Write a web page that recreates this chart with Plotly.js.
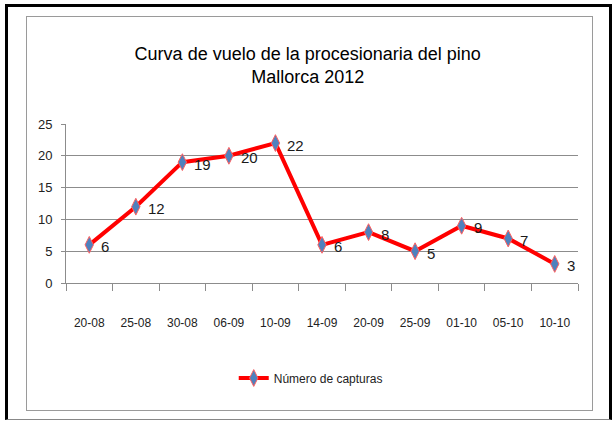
<!DOCTYPE html>
<html>
<head>
<meta charset="utf-8">
<script src="https://cdn.plot.ly/plotly-3.0.1.min.js"></script>
<style>
  html, body { margin: 0; padding: 0; background: #fff; }
  #wrap { position: relative; width: 613px; height: 421px; overflow: hidden; }
  #chart { position: absolute; left: 0; top: 0; width: 613px; height: 421px; }
  .frame { position: absolute; pointer-events: none; box-sizing: border-box; }
  #outer { left: 5px; top: 4px; width: 607px; height: 416px;
           border-left: 3px solid #000; border-top: 3px solid #000; border-right: 3px solid #000;
           border-bottom: 1px solid #888; }
  #inner { left: 26px; top: 16px; width: 567px; height: 395px; border: 1px solid #9a9a9a; }
</style>
</head>
<body>
<div id="wrap">
  <div id="chart"></div>
  <div class="frame" id="outer"></div>
  <div class="frame" id="inner"></div>
</div>
<script>
const categories = ["20-08", "25-08", "30-08", "06-09", "10-09", "14-09", "20-09", "25-09", "01-10", "05-10", "10-10"];
const capturas = [6, 12, 19, 20, 22, 6, 8, 5, 9, 7, 3];
const seriesName = "Número de capturas";
const yTicks = [0, 5, 10, 15, 20, 25];
const chartTitle = "Curva de vuelo de la procesionaria del pino<br>Mallorca 2012";

const fam = '"Liberation Sans Narrow", "Liberation Sans", Arial, sans-serif';

const trace = {
  x: categories,
  y: capturas,
  name: seriesName,
  type: "scatter",
  mode: "lines+markers",
  line: { color: "#ff0000", width: 4 },
  marker: { symbol: "diamond-tall", size: 12, color: "#4f81bd", line: { color: "#ff6060", width: 1 } },
  cliponaxis: false
};

const labels = categories.map((c, i) => ({
  x: c, y: capturas[i], xref: "x", yref: "y",
  text: String(capturas[i]), showarrow: false,
  xanchor: "left", yanchor: "middle", xshift: 10, yshift: -2,
  font: { family: fam, size: 15, color: "#1a1a1a" }
}));

const layout = {
  width: 613,
  height: 421,
  margin: { l: 66, r: 35, t: 124, b: 138 },
  paper_bgcolor: "#ffffff",
  plot_bgcolor: "#ffffff",
  title: {
    text: chartTitle,
    font: { family: fam, size: 18, color: "#000" },
    x: 0.502, xanchor: "center",
    y: 1 - 60 / 421, yref: "container", yanchor: "middle"
  },
  annotations: labels,
  showlegend: true,
  legend: {
    orientation: "h",
    x: 0.478, xanchor: "center",
    y: (283 - 378) / 159, yanchor: "middle",
    font: { family: fam, size: 12, color: "#222" },
    itemwidth: 30
  },
  xaxis: {
    type: "category",
    range: [-0.5, 10.5],
    showline: true, linecolor: "#8c8c8c", linewidth: 1,
    ticks: "outside", tickson: "boundaries", ticklen: 7, tickcolor: "#8c8c8c",
    showgrid: false, zeroline: false,
    tickfont: { family: fam, size: 12, color: "#222" },
    ticklabelstandoff: 29
  },
  yaxis: {
    range: [0, 25],
    tickvals: yTicks,
    showline: true, linecolor: "#8c8c8c", linewidth: 1,
    ticks: "outside", ticklen: 4, tickcolor: "#8c8c8c",
    showgrid: true, gridcolor: "#8c8c8c", gridwidth: 1,
    zeroline: false,
    tickfont: { family: fam, size: 13, color: "#222" },
    ticklabelstandoff: 6
  }
};

Plotly.newPlot("chart", [trace], layout, { displayModeBar: false, staticPlot: true });
</script>
</body>
</html>
